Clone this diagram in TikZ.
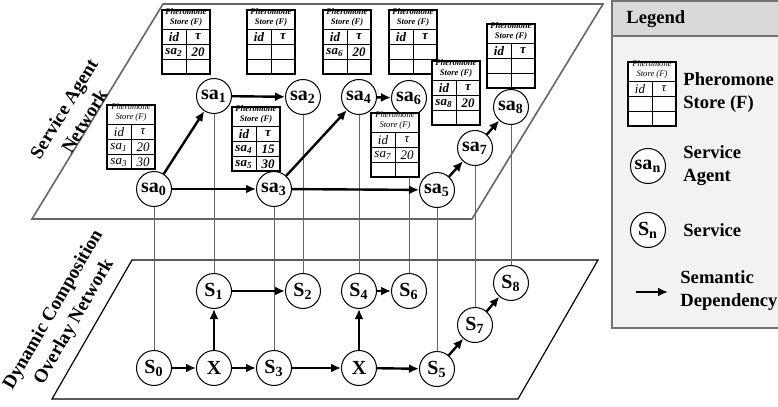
\documentclass[tikz,border=0pt]{standalone}
\usepackage{fontspec}
\setmainfont{Liberation Serif}
\usetikzlibrary{arrows.meta}

\tikzset{
  agent/.style={circle, draw, fill=white, line width=0.5pt, minimum size=17.5pt, inner sep=0pt, font=\fontsize{10}{12}\selectfont\bfseries},
  dep/.style={-{Latex[length=5pt,width=4.5pt]}, line width=1.2pt},
  link/.style={draw=black!60, line width=0.5pt},
  scell/.style={inner sep=0pt},
  lbl/.style={font=\fontsize{9.5}{12}\selectfont\bfseries, align=center},
  legtext/.style={font=\fontsize{9.3}{11.5}\selectfont\bfseries, align=left, anchor=west, inner sep=0pt},
}

% pheromone store: name, top left, cell font, then the two data rows
\newcommand{\pstore}[7]{%
  \begin{scope}[shift={#2}]
    \draw[fill=white, line width=0.6pt] (0,0) rectangle (48,64);
    \draw[line width=0.5pt] (0,19) -- (48,19) (0,34) -- (48,34) (0,49) -- (48,49) (24,19) -- (24,64);
    \node[scell, font=\fontsize{4.3}{5.2}\selectfont#3, align=center] (#1h) at (24,9.5) {Pheromone\\\underline{Store (F)}};
    \node[scell, font=\fontsize{6.5}{7}\selectfont#3] (#1a) at (12,27) {id};
    \node[scell, font=\fontsize{6.5}{7}\selectfont#3] (#1b) at (36,27) {τ};
    \node[scell, font=\fontsize{6.5}{7}\selectfont#3] (#1c) at (12,42) {#4};
    \node[scell, font=\fontsize{6.5}{7}\selectfont#3] (#1d) at (36,42) {#5};
    \node[scell, font=\fontsize{6.5}{7}\selectfont#3] (#1e) at (12,57) {#6};
    \node[scell, font=\fontsize{6.5}{7}\selectfont#3] (#1f) at (36,57) {#7};
  \end{scope}}

\begin{document}
\begin{tikzpicture}[x=0.5pt,y=-0.5pt]
	\useasboundingbox (0,0) rectangle (778,407);
	%planes
	\draw[draw=black!60, line width=0.8pt] (163,4) -- (603,4) -- (472,219) -- (32,219) -- cycle;
	\draw[line width=0.6pt] (132,260) -- (598,260) -- (518,399) -- (52,399) -- cycle;
	\node[lbl, rotate=58.5] (lagents) at (74,115) {Service Agent\\Network};
	\node[lbl, rotate=60] (loverlay) at (64,316) {Dynamic Composition\\Overlay Network};
	%service agents
	\node[agent] (sa0) at (154,189) {sa\textsubscript{0}};
	\node[agent] (sa1) at (214,96) {sa\textsubscript{1}};
	\node[agent] (sa2) at (303,97) {sa\textsubscript{2}};
	\node[agent] (sa3) at (274,189) {sa\textsubscript{3}};
	\node[agent] (sa4) at (359,97) {sa\textsubscript{4}};
	\node[agent] (sa5) at (437,190) {sa\textsubscript{5}};
	\node[agent] (sa6) at (409,98) {sa\textsubscript{6}};
	\node[agent] (sa7) at (475,148) {sa\textsubscript{7}};
	\node[agent] (sa8) at (511,107) {sa\textsubscript{8}};
	%services
	\node[agent] (s0) at (154,368) {S\textsubscript{0}};
	\node[agent] (x1) at (214,368) {X};
	\node[agent] (s3) at (274,368) {S\textsubscript{3}};
	\node[agent] (x2) at (359,368) {X};
	\node[agent] (s5) at (437,369) {S\textsubscript{5}};
	\node[agent] (s1) at (214,291) {S\textsubscript{1}};
	\node[agent] (s2) at (303,291) {S\textsubscript{2}};
	\node[agent] (s4) at (359,291) {S\textsubscript{4}};
	\node[agent] (s6) at (409,291) {S\textsubscript{6}};
	\node[agent] (s7) at (475,325) {S\textsubscript{7}};
	\node[agent] (s8) at (511,283) {S\textsubscript{8}};
	%links between the layers
	\foreach \i in {0,...,8}
		\draw[link] (sa\i) -- (s\i);
	%dependencies
	\draw[dep] (sa0) -- (sa1);
	\draw[dep] (sa0) -- (sa3);
	\draw[dep] (sa1) -- (sa2);
	\draw[dep] (sa3) -- (sa4);
	\draw[dep] (sa3) -- (sa5);
	\draw[dep] (sa4) -- (sa6);
	\draw[dep] (sa5) -- (sa7);
	\draw[dep] (sa7) -- (sa8);
	\draw[dep] (s0) -- (x1);
	\draw[dep] (x1) -- (s3);
	\draw[dep] (x1) -- (s1);
	\draw[dep] (s1) -- (s2);
	\draw[dep] (s3) -- (x2);
	\draw[dep] (x2) -- (s4);
	\draw[dep] (s4) -- (s6);
	\draw[dep] (x2) -- (s5);
	\draw[dep] (s5) -- (s7);
	\draw[dep] (s7) -- (s8);
	%pheromone stores
	\pstore{ta}{(107,105)}{\itshape}{sa\textsubscript{1}}{20}{sa\textsubscript{3}}{30}
	\pstore{tb}{(162,10)}{\bfseries\itshape}{sa\textsubscript{2}}{20}{}{}
	\pstore{tc}{(247,10)}{\bfseries\itshape}{}{}{}{}
	\pstore{td}{(232,107)}{\bfseries\itshape}{sa\textsubscript{4}}{15}{sa\textsubscript{5}}{30}
	\pstore{te}{(323,10)}{\bfseries\itshape}{sa\textsubscript{6}}{20}{}{}
	\pstore{tf}{(389,10)}{\bfseries\itshape}{}{}{}{}
	\pstore{tg}{(371,113)}{\itshape}{sa\textsubscript{7}}{20}{}{}
	\pstore{th}{(432,61)}{\bfseries\itshape}{sa\textsubscript{8}}{20}{}{}
	\pstore{ti}{(487,24)}{\bfseries\itshape}{}{}{}{}
	%legend
	\fill[black!5] (612,1) rectangle (778,328);
	\fill[black!15] (612,1) rectangle (778,36);
	\draw[black!55, line width=0.8pt] (778,1) -- (612,1) -- (612,328) -- (778,328) (612,36) -- (778,36);
	\node[legtext] (leg) at (626,19) {Legend};
	\pstore{tl}{(628,62)}{\itshape}{}{}{}{}
	\node[legtext] (legstore) at (683,93) {Pheromone\\Store (F)};
	\node[agent] (legsa) at (648,166) {sa\textsubscript{n}};
	\node[legtext] (legagent) at (683,166) {Service\\Agent};
	\node[agent] (legs) at (648,230) {S\textsubscript{n}};
	\node[legtext] (legservice) at (683,230) {Service};
	\coordinate (legfrom) at (636,292);
	\coordinate (legto) at (668,292);
	\draw[dep] (legfrom) -- (legto);
	\node[legtext] (legdep) at (680,291) {Semantic\\Dependency};
\end{tikzpicture}
\end{document}
